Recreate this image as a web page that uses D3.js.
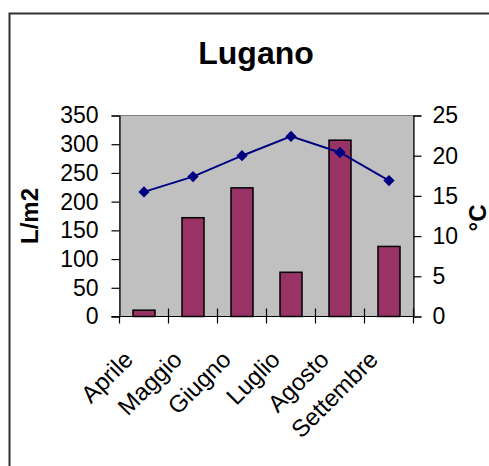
<!DOCTYPE html>
<html>
<head>
<meta charset="utf-8">
<script src="https://cdn.jsdelivr.net/npm/d3@7"></script>
<style>
  html, body { margin: 0; padding: 0; background: #fff; }
  svg { display: block; }
  text { font-family: Arial, "Liberation Sans", sans-serif; fill: #000; }
</style>
</head>
<body>
<svg id="chart" width="489" height="466"></svg>
<script>
// Monthly rainfall (L/m2) and mean temperature (°C) for Lugano
const months = ["Aprile", "Maggio", "Giugno", "Luglio", "Agosto", "Settembre"];
const rainfall = [11, 172, 224, 77, 307, 122];
const temperature = [15.5, 17.4, 20, 22.4, 20.4, 16.9];
const rainTicks = [0, 50, 100, 150, 200, 250, 300, 350];
const tempTicks = [0, 5, 10, 15, 20, 25];

const svg = d3.select("#chart");
const plot = { left: 119.5, right: 413.5, top: 115.5, bottom: 316.5 };
const FONT = "Arial, 'Liberation Sans', sans-serif";

// Outer chart frame (continues past the right and bottom edges)
svg.append("rect")
  .attr("x", 9.5).attr("y", 13.5)
  .attr("width", 600).attr("height", 600)
  .attr("fill", "#fff").attr("stroke", "#333").attr("stroke-width", 2);

svg.append("text")
  .attr("x", 256).attr("y", 63.5)
  .attr("text-anchor", "middle")
  .style("font-size", "32px").style("font-weight", "bold")
  .text("Lugano");

const x = d3.scaleBand().domain(months).range([plot.left, plot.right]).padding(0);
const yL = d3.scaleLinear().domain([0, 350]).range([plot.bottom, plot.top]);
const yR = d3.scaleLinear().domain([0, 25]).range([plot.bottom, plot.top]);

// Plot area background
svg.append("rect")
  .attr("x", plot.left).attr("y", plot.top)
  .attr("width", plot.right - plot.left).attr("height", plot.bottom - plot.top)
  .attr("fill", "#c0c0c0").attr("stroke", "#808080").attr("stroke-width", 1);

// Rainfall bars
const barW = 22;
svg.append("g").selectAll("rect").data(months).join("rect")
  .attr("x", d => x(d) + x.bandwidth() / 2 - barW / 2)
  .attr("y", (d, i) => yL(rainfall[i]))
  .attr("width", barW)
  .attr("height", (d, i) => yL(0) - yL(rainfall[i]))
  .attr("fill", "#993366")
  .attr("stroke", "#000").attr("stroke-width", 1.5);

// Left axis
const axL = svg.append("g")
  .attr("transform", `translate(${plot.left},0)`)
  .call(d3.axisLeft(yL).tickValues(rainTicks).tickSize(8).tickPadding(13));
// Right axis
const axR = svg.append("g")
  .attr("transform", `translate(${plot.right},0)`)
  .call(d3.axisRight(yR).tickValues(tempTicks).tickSize(8).tickPadding(11));
[axL, axR].forEach(g => {
  g.select(".domain").attr("stroke", "#000").attr("stroke-width", 1.2);
  g.selectAll(".tick line").attr("stroke", "#000").attr("stroke-width", 1.2);
  g.selectAll(".tick text").style("font-size", "23px").style("font-family", FONT);
});

// Category axis with crossing tick marks at the band edges
const edges = months.map(m => x(m)).concat([plot.right]);
const axB = svg.append("g");
axB.append("line")
  .attr("x1", plot.left - 8).attr("x2", plot.right)
  .attr("y1", plot.bottom).attr("y2", plot.bottom)
  .attr("stroke", "#000").attr("stroke-width", 1.2);
axB.selectAll("line.tk").data(edges).join("line").attr("class", "tk")
  .attr("x1", d => d).attr("x2", d => d)
  .attr("y1", (d, i) => (i === 0 ? plot.bottom : plot.bottom - 8))
  .attr("y2", plot.bottom + 7)
  .attr("stroke", "#000").attr("stroke-width", 1.2);
axB.selectAll("text").data(months).join("text")
  .attr("text-anchor", "end")
  .attr("transform", d => `translate(${x(d) + x.bandwidth() / 2 - 9.5},361) rotate(-45)`)
  .style("font-size", "24px")
  .text(d => d);

// Temperature line with diamond markers
const line = d3.line()
  .x((d, i) => x(months[i]) + x.bandwidth() / 2)
  .y(d => yR(d));
svg.append("path").datum(temperature)
  .attr("d", line)
  .attr("fill", "none").attr("stroke", "#000080").attr("stroke-width", 2);
svg.append("g").selectAll("path").data(temperature).join("path")
  .attr("d", d3.symbol(d3.symbolSquare, 64))
  .attr("transform", (d, i) => `translate(${x(months[i]) + x.bandwidth() / 2},${yR(d)}) rotate(45)`)
  .attr("fill", "#000080");

// Axis titles
svg.append("text")
  .attr("transform", "translate(37.5,216) rotate(-90)")
  .attr("text-anchor", "middle")
  .style("font-size", "24px").style("font-weight", "bold")
  .text("L/m2");
svg.append("text")
  .attr("transform", "translate(486,218) rotate(-90)")
  .attr("text-anchor", "middle")
  .style("font-size", "24px").style("font-weight", "bold")
  .text("°C");
</script>
</body>
</html>
